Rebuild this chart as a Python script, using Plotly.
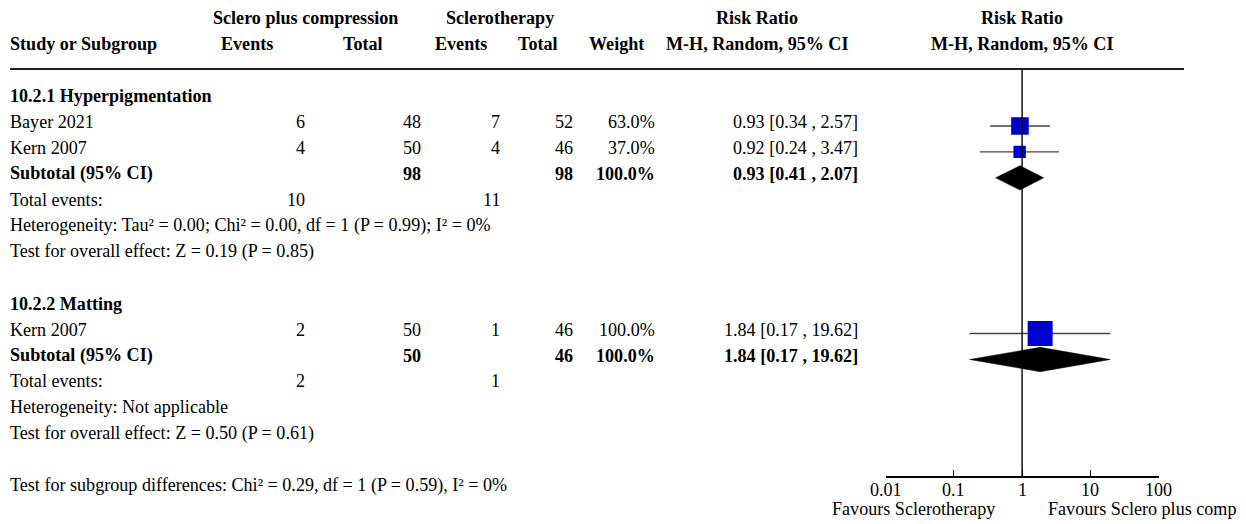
import math
import plotly.graph_objects as go

# ---------------- data ----------------
subgroup_names = ["10.2.1 Hyperpigmentation", "10.2.2 Matting"]

study_names = ["Bayer 2021", "Kern 2007", "Kern 2007"]
study_group = [0, 0, 1]
comp_events = [6, 4, 2]
comp_totals = [48, 50, 50]
sclero_events = [7, 4, 1]
sclero_totals = [52, 46, 46]
weights = [63.0, 37.0, 100.0]
rr = [0.93, 0.92, 1.84]
rr_low = [0.34, 0.24, 0.17]
rr_high = [2.57, 3.47, 19.62]

sub_rr = [0.93, 1.84]
sub_low = [0.41, 0.17]
sub_high = [2.07, 19.62]
sub_weight = [100.0, 100.0]
sub_comp_totals = [98, 50]
sub_sclero_totals = [98, 46]
sub_comp_events = [10, 2]
sub_sclero_events = [11, 1]
heterogeneity = [
    "Heterogeneity: Tau² = 0.00; Chi² = 0.00, df = 1 (P = 0.99); I² = 0%",
    "Heterogeneity: Not applicable",
]
overall_effect = [
    "Test for overall effect: Z = 0.19 (P = 0.85)",
    "Test for overall effect: Z = 0.50 (P = 0.61)",
]
subgroup_diff = "Test for subgroup differences: Chi² = 0.29, df = 1 (P = 0.59), I² = 0%"

tick_values = [0.01, 0.1, 1, 10, 100]
tick_labels = ["0.01", "0.1", "1", "10", "100"]
favours_left = "Favours Sclerotherapy"
favours_right = "Favours Sclero plus comp"

# ---------------- layout constants ----------------
W, H = 1246, 524
ROW_H = 25.95          # pixel height of one table row
ROW0_PX = 100          # pixel centre of the first body row
AXIS_PX = 476          # pixel position of the effect axis
FONT = "Liberation Serif"
FS = 18.1
TEXT_SHIFT = 4

y_top = (0 - ROW0_PX) / ROW_H
y_bot = (AXIS_PX - ROW0_PX) / ROW_H
header_line_row = (69 - ROW0_PX) / ROW_H

# column anchors (pixels)
X_STUDY = 10
X_EV_C, X_TOT_C, X_EV_S, X_TOT_S, X_W, X_CI = 305, 421, 500, 573, 655, 858
X_PLOT_L, X_PLOT_R = 885.7, 1158.5

annotations = []


def row_to_paper(row):
    return 1 - (ROW0_PX + row * ROW_H) / H


def txt(x_px, row, s, anchor="right", bold=False):
    annotations.append(dict(
        x=x_px / W, xref="paper", y=row_to_paper(row), yref="paper",
        text=f"<b>{s}</b>" if bold else s,
        xanchor=anchor, yanchor="middle", showarrow=False,
        yshift=TEXT_SHIFT, borderpad=0, borderwidth=0,
        font=dict(family=FONT, size=FS, color="black"),
    ))


def ci_text(est, lo, hi):
    return f"{est:.2f} [{lo:.2f} , {hi:.2f}]"


# header block
txt(305, -3, "Sclero plus compression", "center", True)
txt(499.5, -3, "Sclerotherapy", "center", True)
txt(757, -3, "Risk Ratio", "center", True)
txt(1022, -3, "Risk Ratio", "center", True)
txt(X_STUDY, -2, "Study or Subgroup", "left", True)
txt(247, -2, "Events", "center", True)
txt(363, -2, "Total", "center", True)
txt(460.5, -2, "Events", "center", True)
txt(537.5, -2, "Total", "center", True)
txt(616.5, -2, "Weight", "center", True)
txt(757, -2, "M-H, Random, 95% CI", "center", True)
txt(1022, -2, "M-H, Random, 95% CI", "center", True)

# body rows
study_rows, sub_rows = [], []
row = 0
for g, name in enumerate(subgroup_names):
    txt(X_STUDY, row, name, "left", True)
    row += 1
    for i, grp in enumerate(study_group):
        if grp != g:
            continue
        study_rows.append(row)
        txt(X_STUDY, row, study_names[i], "left")
        txt(X_EV_C, row, str(comp_events[i]))
        txt(X_TOT_C, row, str(comp_totals[i]))
        txt(X_EV_S, row, str(sclero_events[i]))
        txt(X_TOT_S, row, str(sclero_totals[i]))
        txt(X_W, row, f"{weights[i]:.1f}%")
        txt(X_CI, row, ci_text(rr[i], rr_low[i], rr_high[i]))
        row += 1
    sub_rows.append(row)
    txt(X_STUDY, row, "Subtotal (95% CI)", "left", True)
    txt(X_TOT_C, row, str(sub_comp_totals[g]), bold=True)
    txt(X_TOT_S, row, str(sub_sclero_totals[g]), bold=True)
    txt(X_W, row, f"{sub_weight[g]:.1f}%", bold=True)
    txt(X_CI, row, ci_text(sub_rr[g], sub_low[g], sub_high[g]), bold=True)
    row += 1
    txt(X_STUDY, row, "Total events:", "left")
    txt(X_EV_C, row, str(sub_comp_events[g]))
    txt(X_EV_S, row, str(sub_sclero_events[g]))
    row += 1
    txt(X_STUDY, row, heterogeneity[g], "left")
    row += 1
    txt(X_STUDY, row, overall_effect[g], "left")
    row += 2

txt(X_STUDY, row, subgroup_diff, "left")

# tick labels of the effect axis, placed on the log axis
tick_row = row + 0.19
for v, lab in zip(tick_values, tick_labels):
    annotations.append(dict(
        x=math.log10(v), xref="x", y=row_to_paper(tick_row), yref="paper",
        text=lab, xanchor="center", yanchor="middle", showarrow=False,
        yshift=TEXT_SHIFT, borderpad=0, borderwidth=0,
        font=dict(family=FONT, size=FS, color="black"),
    ))

# favours labels under the axis
fav_row = row + 0.92
txt(995, fav_row, favours_left, "right")
txt(1048, fav_row, favours_right, "left")

fig = go.Figure()

# confidence interval whiskers
ci_x, ci_y = [], []
for i, r in enumerate(study_rows):
    ci_x += [rr_low[i], rr_high[i], None]
    ci_y += [r, r, None]
fig.add_trace(go.Scatter(
    x=ci_x, y=ci_y, mode="lines",
    line=dict(color="#444444", width=1.4), hoverinfo="skip",
))

# study weight boxes
fig.add_trace(go.Scatter(
    x=rr, y=study_rows, mode="markers",
    marker=dict(symbol="square", color="#0000cc", opacity=1,
                size=[5 + 20 * w / 100 for w in weights],
                line=dict(width=0)),
))

# pooled diamonds
half_h = 0.47
for g, r in enumerate(sub_rows):
    fig.add_trace(go.Scatter(
        x=[sub_low[g], sub_rr[g], sub_high[g], sub_rr[g], sub_low[g]],
        y=[r, r - half_h, r, r + half_h, r],
        mode="lines", fill="toself", fillcolor="black",
        line=dict(color="black", width=0.5), hoverinfo="skip",
    ))

shapes = [
    # rule under the header
    dict(type="line", xref="paper", yref="y",
         x0=X_STUDY / W, x1=1184 / W, y0=header_line_row, y1=header_line_row,
         line=dict(color="#222222", width=2)),
    # line of no effect
    dict(type="line", xref="x", yref="y",
         x0=1, x1=1, y0=header_line_row, y1=y_bot,
         line=dict(color="black", width=1.4)),
]

fig.update_layout(
    width=W, height=H, autosize=False,
    margin=dict(l=0, r=0, t=0, b=0, pad=0, autoexpand=False),
    paper_bgcolor="white", plot_bgcolor="white",
    showlegend=False,
    annotations=annotations,
    shapes=shapes,
    xaxis=dict(
        type="log", range=[-2, 2],
        domain=[X_PLOT_L / W, X_PLOT_R / W],
        tickvals=tick_values, showticklabels=False,
        ticks="inside", ticklen=6, tickwidth=1.3, tickcolor="black",
        showline=True, linecolor="black", linewidth=1.5,
        showgrid=False, zeroline=False, automargin=False,
    ),
    yaxis=dict(
        range=[y_bot, y_top],
        domain=[(H - AXIS_PX) / H, 1],
        visible=False, showgrid=False, zeroline=False, automargin=False,
    ),
)

fig.write_html("out.html")
